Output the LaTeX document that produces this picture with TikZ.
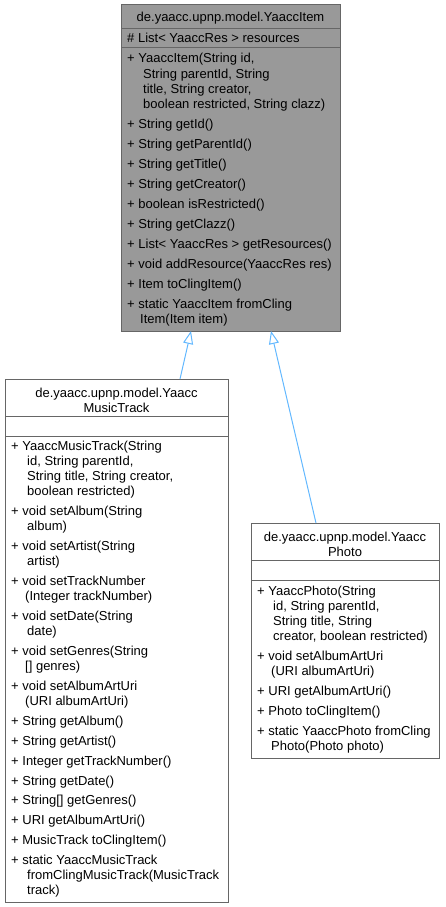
\documentclass[tikz,border=0pt]{standalone}
\usepackage{fontspec}
\setmainfont{Liberation Sans}
\usetikzlibrary{arrows.meta}
\definecolor{bordergray}{HTML}{666666}
\definecolor{focusgray}{HTML}{999999}
\definecolor{edgeblue}{HTML}{63B8FF}
\newcommand\mline[4]{\node[txt] (#1) at (#2,#3) {#4};}
\newcommand\mtitle[4]{\node[ttl] (#1) at (#2,#3) {#4};}
\begin{document}
\begin{tikzpicture}[x=1pt,y=-1pt,
  box/.style={draw=bordergray, line width=1pt, inner sep=0pt, outer sep=0pt, anchor=north west},
  sepline/.style={draw=bordergray, line width=1pt},
  txt/.style={anchor=base west, inner sep=0pt, font=\fontsize{13}{15}\selectfont},
  ttl/.style={anchor=base, inner sep=0pt, font=\fontsize{13}{15}\selectfont},
  inh/.style={draw=edgeblue, line width=1pt, -{Triangle[open, length=13pt, width=10pt]}}]
\useasboundingbox (0,0) rectangle (445,907);

% ---------- YaaccItem ----------
\node[box, fill=focusgray, minimum width=219pt, minimum height=326pt] (item) at (121,5) {};
\draw[sepline] ([yshift=-24pt]item.north west) -- ([yshift=-24pt]item.north east);
\draw[sepline] ([yshift=-43pt]item.north west) -- ([yshift=-43pt]item.north east);
\mtitle{it}{230.5}{22}{de.yaacc.upnp.model.YaaccItem}
\mline{i0}{127}{43}{\# List< YaaccRes > resources}
\mline{i1}{127}{63}{+ YaaccItem(String id,}
\mline{i1b}{143}{78}{String parentId, String}
\mline{i1c}{143}{93}{title, String creator,}
\mline{i1d}{143}{108}{boolean restricted, String clazz)}
\mline{i2}{127}{128}{+ String getId()}
\mline{i3}{127}{148}{+ String getParentId()}
\mline{i4}{127}{168}{+ String getTitle()}
\mline{i5}{127}{188}{+ String getCreator()}
\mline{i6}{127}{208}{+ boolean isRestricted()}
\mline{i7}{127}{228}{+ String getClazz()}
\mline{i8}{127}{248}{+ List< YaaccRes > getResources()}
\mline{i9}{127}{268}{+ void addResource(YaaccRes res)}
\mline{i10}{127}{288}{+ Item toClingItem()}
\mline{i11}{127}{308}{+ static YaaccItem fromCling}
\mline{i11b}{140}{323}{Item(Item item)}

% ---------- YaaccMusicTrack ----------
\node[box, fill=white, minimum width=223pt, minimum height=523pt] (music) at (5,379) {};
\draw[sepline] ([yshift=-37pt]music.north west) -- ([yshift=-37pt]music.north east);
\draw[sepline] ([yshift=-57pt]music.north west) -- ([yshift=-57pt]music.north east);
\mtitle{mt1}{116.5}{397}{de.yaacc.upnp.model.Yaacc}
\mtitle{mt2}{116.5}{412}{MusicTrack}
\mline{m1}{11}{450}{+ YaaccMusicTrack(String}
\mline{m1b}{27}{465}{id, String parentId,}
\mline{m1c}{27}{480}{String title, String creator,}
\mline{m1d}{27}{495}{boolean restricted)}
\mline{m2}{11}{515}{+ void setAlbum(String}
\mline{m2b}{27}{530}{album)}
\mline{m3}{11}{550}{+ void setArtist(String}
\mline{m3b}{27}{565}{artist)}
\mline{m4}{11}{585}{+ void setTrackNumber}
\mline{m4b}{25}{600}{(Integer trackNumber)}
\mline{m5}{11}{620}{+ void setDate(String}
\mline{m5b}{27}{635}{date)}
\mline{m6}{11}{655}{+ void setGenres(String}
\mline{m6b}{25}{670}{[] genres)}
\mline{m7}{11}{690}{+ void setAlbumArtUri}
\mline{m7b}{25}{705}{(URI albumArtUri)}
\mline{m8}{11}{725}{+ String getAlbum()}
\mline{m9}{11}{745}{+ String getArtist()}
\mline{m10}{11}{765}{+ Integer getTrackNumber()}
\mline{m11}{11}{785}{+ String getDate()}
\mline{m12}{11}{804}{+ String[] getGenres()}
\mline{m13}{11}{824}{+ URI getAlbumArtUri()}
\mline{m14}{11}{844}{+ MusicTrack toClingItem()}
\mline{m15}{11}{864}{+ static YaaccMusicTrack}
\mline{m15b}{27}{879}{fromClingMusicTrack(MusicTrack}
\mline{m15c}{27}{894}{track)}

% ---------- YaaccPhoto ----------
\node[box, fill=white, minimum width=188pt, minimum height=235pt] (photo) at (251,523) {};
\draw[sepline] ([yshift=-37pt]photo.north west) -- ([yshift=-37pt]photo.north east);
\draw[sepline] ([yshift=-57pt]photo.north west) -- ([yshift=-57pt]photo.north east);
\mtitle{pt1}{345}{541}{de.yaacc.upnp.model.Yaacc}
\mtitle{pt2}{345}{556}{Photo}
\mline{p1}{257}{595}{+ YaaccPhoto(String}
\mline{p1b}{273}{610}{id, String parentId,}
\mline{p1c}{273}{625}{String title, String}
\mline{p1d}{273}{640}{creator, boolean restricted)}
\mline{p2}{257}{660}{+ void setAlbumArtUri}
\mline{p2b}{271}{675}{(URI albumArtUri)}
\mline{p3}{257}{695}{+ URI getAlbumArtUri()}
\mline{p4}{257}{715}{+ Photo toClingItem()}
\mline{p5}{257}{735}{+ static YaaccPhoto fromCling}
\mline{p5b}{271}{750}{Photo(Photo photo)}

% ---------- inheritance ----------
\draw[inh] ([xshift=175pt]music.north west) -- ([xshift=70pt]item.south west);
\draw[inh] ([xshift=65pt]photo.north west) -- ([xshift=150pt]item.south west);
\end{tikzpicture}
\end{document}
